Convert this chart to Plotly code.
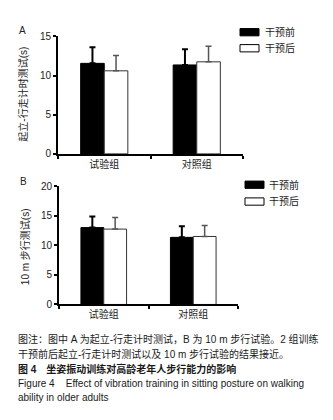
import plotly.graph_objects as go

W, H = 333, 420

categories = ["试验组", "对照组"]
series_names = ["干预前", "干预后"]

# Panel A: 起立-行走计时测试 (s)
a_pre = [11.55, 11.35]
a_pre_err = [2.05, 2.0]
a_post = [10.6, 11.75]
a_post_err = [1.95, 2.0]

# Panel B: 10 m 步行测试 (s)
b_pre = [13.0, 11.35]
b_pre_err = [1.9, 1.9]
b_post = [12.75, 11.5]
b_post_err = [1.95, 1.85]

a_yticks = [0, 5, 10, 15]
b_yticks = [0, 5, 10, 15, 20]

FONT = "Liberation Sans, Arial, Noto Sans CJK SC, sans-serif"

def px(x):
    return x / W

def py(y):
    return 1 - y / H

fig = go.Figure()

def add_panel(pre, pre_err, post, post_err, xa, ya):
    fig.add_trace(go.Bar(
        x=categories, y=pre, name=series_names[0], xaxis=xa, yaxis=ya,
        marker=dict(color="black", line=dict(color="black", width=1)),
        error_y=dict(type="data", array=pre_err, arrayminus=[0, 0], symmetric=False,
                     color="black", thickness=2, width=3),
        showlegend=False,
    ))
    fig.add_trace(go.Bar(
        x=categories, y=post, name=series_names[1], xaxis=xa, yaxis=ya,
        marker=dict(color="white", line=dict(color="#333333", width=1)),
        error_y=dict(type="data", array=post_err, arrayminus=[0, 0], symmetric=False,
                     color="#555555", thickness=1.5, width=3),
        showlegend=False,
    ))

add_panel(a_pre, a_pre_err, a_post, a_post_err, "x", "y")
add_panel(b_pre, b_pre_err, b_post, b_post_err, "x2", "y2")

xcommon = dict(showline=True, linecolor="black", linewidth=2, ticks="outside",
               tickson="boundaries", ticklen=3, tickcolor="black", tickwidth=1.5,
               tickfont=dict(family=FONT, size=10, color="#222"), showgrid=False,
               zeroline=False, fixedrange=True)
ycommon = dict(showline=True, linecolor="black", linewidth=2, ticks="outside",
               ticklen=3, tickcolor="black", tickwidth=1.5,
               tickfont=dict(family=FONT, size=10, color="#222"), showgrid=False,
               zeroline=False)

fig.update_layout(
    width=W, height=H,
    margin=dict(l=0, r=0, t=0, b=0),
    paper_bgcolor="white", plot_bgcolor="white",
    barmode="group", bargap=0.49, bargroupgap=0,
    font=dict(family=FONT, color="#222"),
    xaxis=dict(domain=[px(50), px(235)], anchor="y", **xcommon),
    yaxis=dict(domain=[py(144), py(23)], anchor="x", range=[0, 15],
               tickvals=a_yticks, **ycommon),
    xaxis2=dict(domain=[px(51), px(230)], anchor="y2", **xcommon),
    yaxis2=dict(domain=[py(299), py(177.3)], anchor="x2", range=[0, 20],
                tickvals=b_yticks, **ycommon),
    showlegend=False,
)

shapes = []
annotations = []

def legend(x0, y_black, y_white, tx):
    shapes.append(dict(type="rect", xref="paper", yref="paper",
                       x0=px(x0), x1=px(x0 + 19), y0=py(y_black + 7.5), y1=py(y_black),
                       fillcolor="black", line=dict(color="black", width=1)))
    shapes.append(dict(type="rect", xref="paper", yref="paper",
                       x0=px(x0), x1=px(x0 + 19), y0=py(y_white + 7.5), y1=py(y_white),
                       fillcolor="white", line=dict(color="black", width=1)))
    for name, yy in zip(series_names, [y_black + 3.75, y_white + 3.75]):
        annotations.append(dict(text=name, xref="paper", yref="paper", x=px(tx), y=py(yy),
                                xanchor="left", yanchor="middle", showarrow=False,
                                font=dict(family=FONT, size=10, color="#222")))

legend(232, 15, 31.5, 255)
legend(237, 172, 189.3, 259)

def text(t, x, y, size=10, xanchor="left", angle=0, bold=False, color="#222"):
    if bold:
        t = "<b>" + t + "</b>"
    annotations.append(dict(text=t, xref="paper", yref="paper", x=px(x), y=py(y),
                            xanchor=xanchor, yanchor="middle", showarrow=False,
                            textangle=angle, font=dict(family=FONT, size=size, color=color)))

text("A", 9, 17.5, size=10)
text("B", 10, 172, size=10)
text("起立-行走计时测试(s)", 15, 83, size=10, xanchor="center", angle=-90)
text("10 m 步行测试(s)", 17, 240, size=10, xanchor="center", angle=-90)

captions = [
    ("图注：图中 A 为起立-行走计时测试，B 为 10 m 步行试验。2 组训练", 335, False),
    ("干预前后起立-行走计时测试以及 10 m 步行试验的结果接近。", 350, False),
    ("图 4　坐姿振动训练对高龄老年人步行能力的影响", 365, True),
    ("Figure 4    Effect of vibration training in sitting posture on walking", 380, False),
    ("ability in older adults", 395, False),
]
for t, y, b in captions:
    text(t, 8, y, size=10, bold=b, color="#1a1a1a")

fig.update_layout(shapes=shapes, annotations=annotations)
fig.write_html("out.html")
